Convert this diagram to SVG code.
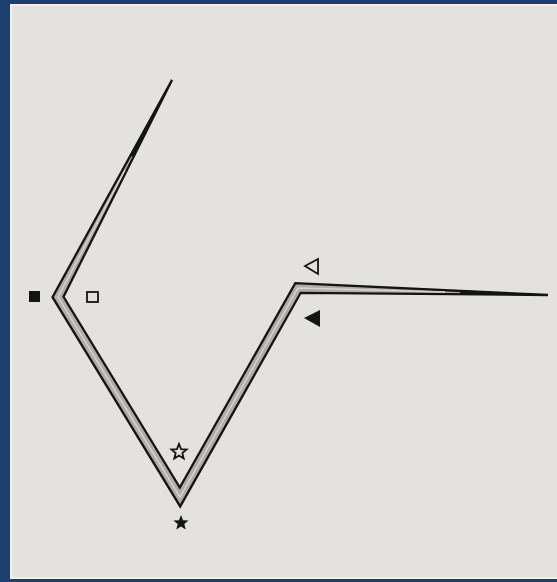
<svg xmlns="http://www.w3.org/2000/svg" width="557" height="582" viewBox="0 0 557 582">
<style>
.ink{fill:#141414;stroke:none}
.hollow{fill:none;stroke:#141414;stroke-width:1.8}
.band{fill:#aeada8;stroke:#141414;stroke-width:2.3;stroke-linejoin:miter;stroke-miterlimit:4}
.mid{fill:none;stroke:#d6d5d0;stroke-width:1.4;stroke-linejoin:miter}
.tip{fill:#141414;stroke:#141414;stroke-width:1;stroke-linejoin:round}
</style>
<defs>
<path id="star" d="M0,-8 L2.06,-2.83 L7.61,-2.47 L3.33,1.08 L4.7,6.47 L0,3.5 L-4.7,6.47 L-3.33,1.08 L-7.61,-2.47 L-2.06,-2.83 Z"/>
</defs>
<rect x="0" y="0" width="557" height="582" fill="#1d3f6e"/>
<rect x="10" y="4" width="547" height="575" fill="#f0f0ee"/>
<rect x="12" y="6" width="545" height="571" fill="#e3e2de"/>
<g id="connectors">
<polygon class="band" points="172,80 52.5,297.2 180.2,506.4 300.7,292.8 548,295 295.3,283.2 179.8,487.6 63.5,296.8"/>
<polyline class="mid" points="125,170 58,297 180,497 298,288 445,292"/>
<polygon class="tip" points="172,80 130.2,156 134,155.9"/>
<polygon class="tip" points="548,295 461.4,294.2 459.6,290.9"/>
</g>
<g id="node-square-filled"><rect class="ink" x="29" y="291" width="11" height="11"/></g>
<g id="node-square-open"><rect class="hollow" x="87" y="292" width="11" height="10"/></g>
<g id="node-star-open"><use href="#star" class="hollow" transform="translate(179,452)"/></g>
<g id="node-star-filled"><use href="#star" class="ink" transform="translate(181,523)"/></g>
<g id="node-triangle-open"><polygon class="hollow" points="305,266 318,259 318,274"/></g>
<g id="node-triangle-filled"><polygon class="ink" points="304,318 320,310 320,327"/></g>
</svg>
